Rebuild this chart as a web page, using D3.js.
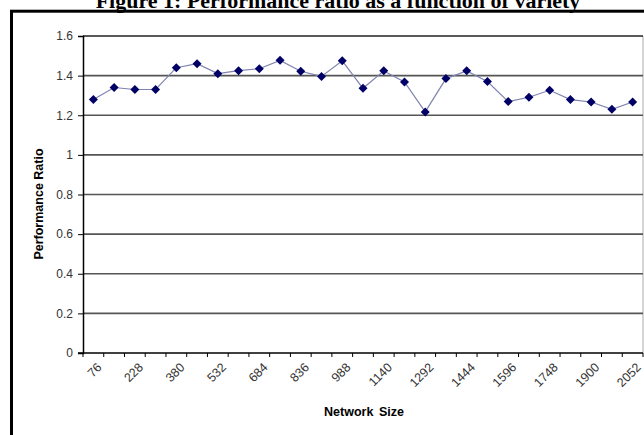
<!DOCTYPE html>
<html>
<head>
<meta charset="utf-8">
<script src="https://cdn.jsdelivr.net/npm/d3@7"></script>
<style>
  body { margin: 0; background: #fff; }
  svg { display: block; }
</style>
</head>
<body>
<svg width="644" height="435"></svg>
<script>
// network sizes (every 76 nodes) and the measured performance ratio
var sizes = [76, 152, 228, 304, 380, 456, 532, 608, 684, 760, 836, 912, 988, 1064,
             1140, 1216, 1292, 1368, 1444, 1520, 1596, 1672, 1748, 1824, 1900, 1976, 2052];
var ratios = [1.28, 1.34, 1.33, 1.33, 1.44, 1.46, 1.41, 1.425, 1.435, 1.477, 1.422, 1.396, 1.475, 1.336,
              1.424, 1.368, 1.217, 1.385, 1.424, 1.37, 1.269, 1.291, 1.326, 1.279, 1.267, 1.23, 1.267];
var xLabels = [76, 228, 380, 532, 684, 836, 988, 1140, 1292, 1444, 1596, 1748, 1900, 2052];
var yTicks = [0, 0.2, 0.4, 0.6, 0.8, 1, 1.2, 1.4, 1.6];

var plot = { left: 83, right: 643, top: 36, bottom: 353 };

var svg = d3.select("svg");

// outer frame, runs off the right and bottom of the picture
svg.append("rect")
   .attr("x", 11.5).attr("y", 11.2)
   .attr("width", 700).attr("height", 500)
   .attr("fill", "none")
   .attr("stroke", "#000")
   .attr("stroke-width", 3);

// title sits half above the page, as in the scan
svg.append("text")
   .attr("x", 338).attr("y", 8)
   .attr("text-anchor", "middle")
   .attr("font-family", "Liberation Serif, Times New Roman, serif")
   .attr("font-weight", "bold")
   .attr("font-size", 22)
   .text("Figure 1: Performance ratio as a function of variety");

var xscale = d3.scaleBand()
               .domain(sizes)
               .range([plot.left, plot.right])
               .padding(0);

var yscale = d3.scaleLinear()
               .domain([0, 1.6])
               .range([plot.bottom, plot.top]);

// plot area right edge
svg.append("line")
   .attr("x1", plot.right).attr("x2", plot.right)
   .attr("y1", plot.top).attr("y2", plot.bottom)
   .attr("stroke", "#aaa").attr("stroke-width", 1);

// horizontal gridlines
svg.append("g")
   .selectAll("line")
   .data(yTicks.filter(function(d) { return d > 0; }))
   .enter()
   .append("line")
   .attr("x1", plot.left).attr("x2", plot.right)
   .attr("y1", function(d) { return yscale(d); })
   .attr("y2", function(d) { return yscale(d); })
   .attr("stroke", function(d) { return d === 1.6 ? "#222" : "#555"; })
   .attr("stroke-width", 1.6);

// y axis
var yaxis = d3.axisLeft(yscale)
              .tickValues(yTicks)
              .tickFormat(function(d) { return String(+d.toFixed(1)); })
              .tickSize(5)
              .tickPadding(5);

var yg = svg.append("g")
            .attr("transform", "translate(" + plot.left + ",0)")
            .call(yaxis);
yg.select(".domain").attr("stroke", "#000").attr("stroke-width", 1.5);
yg.selectAll(".tick line").attr("stroke", "#000");
yg.selectAll(".tick text")
  .attr("font-family", "Liberation Sans, Arial, sans-serif")
  .attr("font-size", 12)
  .attr("fill", "#333");

// x axis: labels every other category, ticks on the category boundaries
var xaxis = d3.axisBottom(xscale)
              .tickValues(xLabels)
              .tickSize(0)
              .tickPadding(0);

var xg = svg.append("g")
            .attr("transform", "translate(0," + plot.bottom + ")")
            .call(xaxis);
xg.select(".domain").remove();
xg.selectAll(".tick text")
  .attr("font-family", "Liberation Sans, Arial, sans-serif")
  .attr("font-size", 12.5)
  .attr("fill", "#333")
  .attr("text-anchor", "end")
  .attr("dy", "0.35em")
  .attr("transform", "translate(6,12) rotate(-45)");

var bounds = sizes.map(function(d) { return xscale(d); }).concat([plot.right]);
svg.append("g")
   .selectAll("line")
   .data(bounds)
   .enter()
   .append("line")
   .attr("x1", function(d) { return d; })
   .attr("x2", function(d) { return d; })
   .attr("y1", plot.bottom)
   .attr("y2", plot.bottom + 4)
   .attr("stroke", "#000");

svg.append("line")
   .attr("x1", plot.left - 5).attr("x2", plot.right)
   .attr("y1", plot.bottom).attr("y2", plot.bottom)
   .attr("stroke", "#000").attr("stroke-width", 1.5);

// series
var line = d3.line()
             .x(function(d, i) { return xscale(sizes[i]) + xscale.bandwidth() / 2; })
             .y(function(d) { return yscale(d); });

svg.append("path")
   .datum(ratios)
   .attr("d", line)
   .attr("fill", "none")
   .attr("stroke", "#7f82b0")
   .attr("stroke-width", 1.2);

svg.append("g")
   .selectAll("path")
   .data(ratios)
   .enter()
   .append("path")
   .attr("d", "M0,-4.5L4.5,0L0,4.5L-4.5,0Z")
   .attr("transform", function(d, i) {
     return "translate(" + (xscale(sizes[i]) + xscale.bandwidth() / 2) + "," + yscale(d) + ")";
   })
   .attr("fill", "#000066");

// axis titles
svg.append("text")
   .attr("x", 364).attr("y", 416)
   .attr("text-anchor", "middle")
   .attr("font-family", "Liberation Sans, Arial, sans-serif")
   .attr("font-weight", "bold")
   .attr("font-size", 12.5)
   .attr("word-spacing", 2)
   .text("Network Size");

svg.append("text")
   .attr("transform", "translate(43,204) rotate(-90)")
   .attr("text-anchor", "middle")
   .attr("font-family", "Liberation Sans, Arial, sans-serif")
   .attr("font-weight", "bold")
   .attr("font-size", 12.5)
   .text("Performance Ratio");
</script>
</body>
</html>
